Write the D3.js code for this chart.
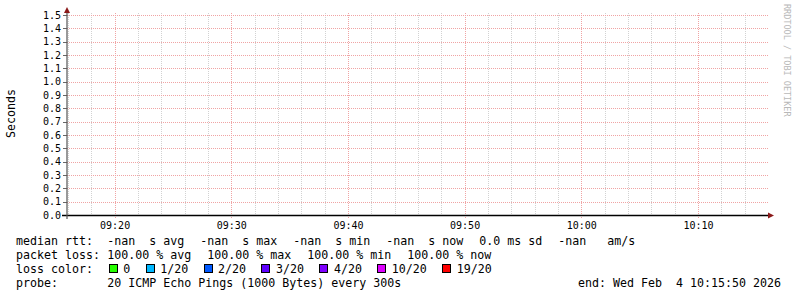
<!DOCTYPE html>
<html><head><meta charset="utf-8">
<script src="https://cdn.jsdelivr.net/npm/d3@7"></script>
<style>body{margin:0;background:#fff}svg{display:block}</style>
</head><body><svg id="c" width="797" height="297"></svg>
<script>
// ---- data ----
const startTime = "2026-02-04 09:15:50";
const endTime = "2026-02-04 10:15:50";
const xTickLabels = ["09:20", "09:30", "09:40", "09:50", "10:00", "10:10"];
const yTickValues = [0.0, 0.1, 0.2, 0.3, 0.4, 0.5, 0.6, 0.7, 0.8, 0.9, 1.0, 1.1, 1.2, 1.3, 1.4, 1.5];
const rttTimes = ["09:20", "09:25", "09:30", "09:35", "09:40", "09:45", "09:50", "09:55", "10:00", "10:05", "10:10", "10:15"];
const medianRtt = [NaN, NaN, NaN, NaN, NaN, NaN, NaN, NaN, NaN, NaN, NaN, NaN];
const yAxisLabel = "Seconds";
const watermark = "RRDTOOL / TOBI OETIKER";
const rttLabel = "median rtt:";
const rttItems = ["-nan  s avg", "-nan  s max", "-nan  s min", "-nan  s now", "0.0 ms sd", "-nan   am/s"];
const lossLabel = "packet loss:";
const lossItems = ["100.00 % avg", "100.00 % max", "100.00 % min", "100.00 % now"];
const colorLabel = "loss color:";
const lossColorLabels = ["0", "1/20", "2/20", "3/20", "4/20", "10/20", "19/20"];
const lossColors = ["#26ff00", "#00b8ff", "#0059ff", "#5e00ff", "#7e00ff", "#dd00ff", "#ff0000"];
const probeLabel = "probe:";
const probeText = "20 ICMP Echo Pings (1000 Bytes) every 300s";
const endText = "end: Wed Feb  4 10:15:50 2026";

// ---- drawing ----
const svg = d3.select("#c");
const mono = "'DejaVu Sans Mono', monospace";
const parseFull = d3.timeParse("%Y-%m-%d %H:%M:%S");
const parseHM = d3.timeParse("%Y-%m-%d %H:%M");
const day = "2026-02-04 ";
const t0 = parseFull(startTime), t1 = parseFull(endTime);
const x = d3.scaleTime().domain([t0, t1]).range([66, 766]);
const y = d3.scaleLinear().domain([0, 1.5]).range([215, 15]);
const plotTop = 13, plotBottom = 215, plotLeft = 67, plotRight = 768;
const px = v => Math.round(v) + 0.5;

svg.append("rect").attr("width", 797).attr("height", 297).attr("fill", "#fff");

// minor vertical grid (every 2 minutes)
const minorTicks = x.ticks(d3.timeMinute.every(2)).filter(d => d.getMinutes() % 10 !== 0);
svg.append("g").selectAll("line").data(minorTicks).join("line")
  .attr("x1", d => px(x(d))).attr("x2", d => px(x(d)))
  .attr("y1", plotTop).attr("y2", plotBottom + 2)
  .attr("stroke", "#d2d2d2").attr("stroke-dasharray", "1,1");

// major vertical grid
const majorTicks = xTickLabels.map(s => parseHM(day + s));
svg.append("g").selectAll("line").data(majorTicks).join("line")
  .attr("x1", d => px(x(d))).attr("x2", d => px(x(d)))
  .attr("y1", plotTop).attr("y2", plotBottom + 3)
  .attr("stroke", "#f0a4a4").attr("stroke-dasharray", "1,1");

// horizontal grid
svg.append("g").selectAll("line").data(yTickValues.filter(v => v > 0)).join("line")
  .attr("x1", plotLeft).attr("x2", plotRight)
  .attr("y1", d => px(y(d))).attr("y2", d => px(y(d)))
  .attr("stroke", "#f0a4a4").attr("stroke-dasharray", "1,1");

// y tick marks
svg.append("g").selectAll("line").data(yTickValues).join("line")
  .attr("x1", 63).attr("x2", 67)
  .attr("y1", d => px(y(d))).attr("y2", d => px(y(d)))
  .attr("stroke", "#666");

// y tick labels
svg.append("g").selectAll("text").data(yTickValues).join("text")
  .attr("x", 61).attr("y", d => y(d) + 3.8)
  .attr("text-anchor", "end")
  .attr("font-family", mono).attr("font-size", 10).attr("fill", "#000")
  .text(d => d3.format(".1f")(d));

// x tick labels
svg.append("g").selectAll("text").data(majorTicks).join("text")
  .attr("x", d => x(d) + 0.5).attr("y", 228.5)
  .attr("text-anchor", "middle")
  .attr("font-family", mono).attr("font-size", 10).attr("fill", "#000")
  .text((d, i) => xTickLabels[i]);

// data line (all NaN -> nothing visible)
const rttData = rttTimes.map((t, i) => ({t: parseHM(day + t), v: medianRtt[i]}));
svg.append("path").datum(rttData)
  .attr("d", d3.line().defined(d => !isNaN(d.v)).x(d => x(d.t)).y(d => y(d.v)))
  .attr("fill", "none").attr("stroke", "#26ff00");

// axes
svg.append("line").attr("x1", 62).attr("x2", 770).attr("y1", 215.5).attr("y2", 215.5)
  .attr("stroke", "#000").attr("stroke-width", 1.4);
svg.append("line").attr("x1", 67).attr("x2", 67).attr("y1", 219).attr("y2", 10)
  .attr("stroke", "#555").attr("stroke-width", 1.2);
// arrows
svg.append("path").attr("d", "M768,212.5 L774,215.5 L768,218.5 Z").attr("fill", "#8b1a1a");
svg.append("path").attr("d", "M64,13 L67,7 L70,13 Z").attr("fill", "#8b1a1a");

// y axis unit label
svg.append("text").attr("transform", "translate(15,113.5) rotate(-90)")
  .attr("text-anchor", "middle").attr("font-family", mono).attr("font-size", 11.6)
  .attr("fill", "#000").text(yAxisLabel);

// watermark
svg.append("text").attr("transform", "translate(783.5,4) rotate(90)")
  .attr("font-family", mono).attr("font-size", 8.5)
  .attr("fill", "#b8b8b8").text(watermark);

// ---- legend ----
const lg = svg.append("g").attr("font-family", mono).attr("font-size", 11.63).attr("fill", "#000")
  .style("white-space", "pre");
const charW = 7, gap = 16, itemX = 107.3;
const base = [245, 259, 273, 287];
function row(label, items, yb) {
  lg.append("text").attr("x", 16).attr("y", yb).attr("xml:space", "preserve").text(label);
  let cx = itemX;
  items.forEach(s => {
    lg.append("text").attr("x", cx).attr("y", yb).attr("xml:space", "preserve").text(s);
    cx += s.length * charW + gap;
  });
}
row(rttLabel, rttItems, base[0]);
row(lossLabel, lossItems, base[1]);
// loss color row
lg.append("text").attr("x", 16).attr("y", base[2]).text(colorLabel);
let bx = 108.7;
lossColorLabels.forEach((s, i) => {
  lg.append("rect").attr("x", Math.round(bx) + 0.5).attr("y", 264.5).attr("width", 8).attr("height", 8)
    .attr("fill", lossColors[i]).attr("stroke", "#000").attr("stroke-width", 1);
  const lx = bx + 14.6;
  lg.append("text").attr("x", lx).attr("y", base[2]).text(s);
  bx = lx + s.length * charW + 15.3;
});
// probe row
row(probeLabel, [probeText], base[3]);
lg.append("text").attr("x", 781).attr("y", base[3]).attr("text-anchor", "end")
  .attr("xml:space", "preserve").text(endText);
</script></body></html>
